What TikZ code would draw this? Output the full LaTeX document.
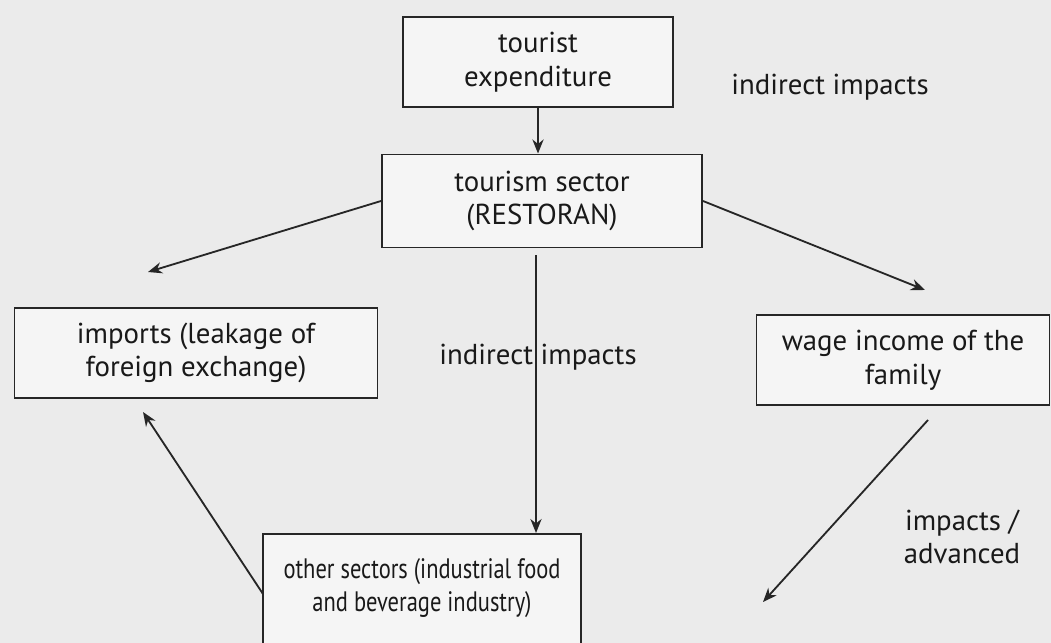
\documentclass[tikz,border=0pt]{standalone}
\usepackage{fontspec}
\setmainfont{PT Sans}
\newfontfamily\narrowsans[FakeStretch=0.8]{PT Sans}
\usetikzlibrary{arrows.meta}

\tikzset{
	flowbox/.style={draw=black!85, line width=1.4pt, fill=black!4, align=center,
		inner sep=0pt, text=black!90, font=\fontsize{20.5}{24}\selectfont},
	flowarrow/.style={draw=black!85, line width=1.3pt, -{Stealth[length=10pt,width=8pt]}},
	flowlabel/.style={align=center, text=black!90, font=\fontsize{20.5}{24}\selectfont}
}

\begin{document}
\begin{tikzpicture}[x=0.025cm, y=-0.025cm]
	% Page
	\useasboundingbox (0,0) rectangle (1051,643);
	\clip (0,0) rectangle (1051,643);
	\fill[black!8] (0,0) rectangle (1051,643);

	% Boxes
	\node[flowbox, minimum width=270*0.025cm, minimum height=90*0.025cm] (tour) at (538,62) {tourist\\expenditure};
	\node[flowbox, minimum width=320*0.025cm, minimum height=93*0.025cm] (sector) at (542,201) {tourism sector\\(RESTORAN)};
	\node[flowbox, minimum width=363*0.025cm, minimum height=90*0.025cm] (imports) at (196,353) {imports (leakage of\\foreign exchange)};
	\node[flowbox, minimum width=293*0.025cm, minimum height=90*0.025cm] (wage) at (903,360) {wage income of the\\family};
	\node[flowbox, anchor=north, minimum width=318*0.025cm, inner ysep=0.6cm, text depth=2cm,
		font=\narrowsans\fontsize{20}{24}\selectfont] (other) at (422,533) {other sectors (industrial food\\and beverage industry)};

	% Free ends of the connectors
	\coordinate (impin) at (148,272);
	\coordinate (wagein) at (925,290);
	\coordinate (vstart) at (536,255);
	\coordinate (impback) at (143,412);
	\coordinate (otherleft) at (263,594);
	\coordinate (wageout) at (928,420);
	\coordinate (otherin) at (763,602);

	% Connectors
	\draw[flowarrow] (tour.south) -- (tour.south |- sector.north);
	\draw[flowarrow] (sector.west) -- (impin);
	\draw[flowarrow] (sector.east) -- (wagein);
	\draw[flowarrow] (vstart) -- (vstart |- other.north);
	\draw[flowarrow] (otherleft) -- (impback);
	\draw[flowarrow] (wageout) -- (otherin);

	% Labels
	\node[flowlabel] (lbltop) at (830,87) {indirect impacts};
	\node[flowlabel] (lblmid) at (538,357) {indirect impacts};
	\node[flowlabel] (lbladv) at (962,537) {impacts /\\advanced};
\end{tikzpicture}
\end{document}
